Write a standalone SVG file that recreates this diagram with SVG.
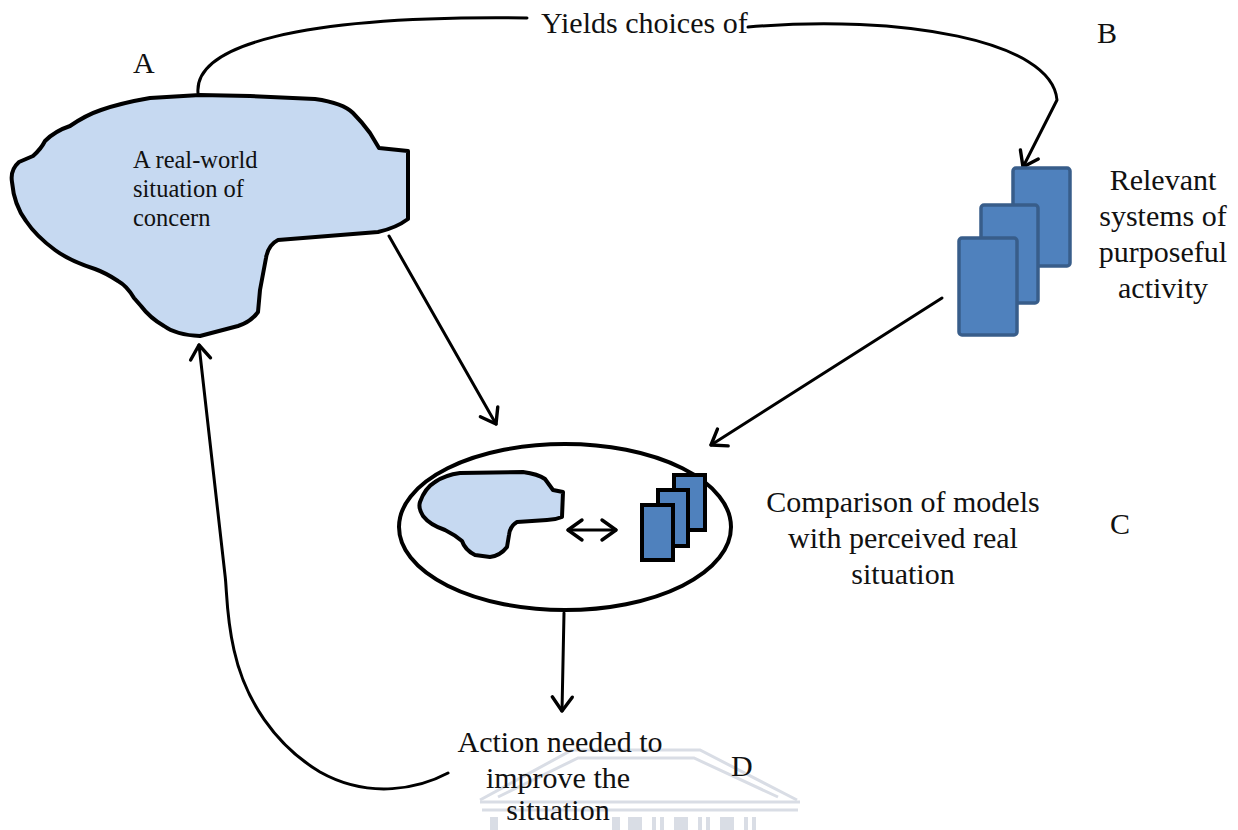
<svg xmlns="http://www.w3.org/2000/svg" width="1238" height="830" viewBox="0 0 1238 830">
  <style>
    .txt { font-family: "Liberation Serif", "Times New Roman", serif; fill: #111; }
    .big { font-size: 30px; }
    .small { font-size: 24.5px; }
    .conn { fill: none; stroke: #000; stroke-width: 3; stroke-linecap: round; stroke-linejoin: round; }
    .blob { fill: #c6d9f1; stroke: #000; stroke-width: 4; stroke-linejoin: round; }
    .sys { fill: #4f81bd; stroke: #385d8a; stroke-width: 3.5; }
    .sysS { fill: #4f81bd; stroke: #000; stroke-width: 4; }
    .wm { fill: none; stroke: #d9dde5; stroke-width: 3; }
    .wmf { fill: #d9dde5; }
  </style>
  <defs>
    <marker id="arrow" markerUnits="userSpaceOnUse" markerWidth="26" markerHeight="26" viewBox="0 0 26 26" refX="20" refY="13" orient="auto-start-reverse">
      <path d="M6,3 L20,13 L6,23" fill="none" stroke="#000" stroke-width="3.4" stroke-linecap="round" stroke-linejoin="round"/>
    </marker>
  </defs>

  <rect width="1238" height="830" fill="#fff"/>

  <!-- faint building emblem at the bottom -->
  <g id="emblem">
    <polyline class="wm" points="480,800 572,750 700,750 797,800"/>
    <polyline class="wm" points="498,797 578,758 694,758 778,797" stroke-width="2"/>
    <line class="wm" x1="480" y1="802" x2="800" y2="802"/>
    <line class="wm" x1="482" y1="810" x2="798" y2="810"/>
    <rect class="wmf" x="490" y="817" width="8" height="13"/>
    <rect class="wmf" x="612" y="817" width="8" height="13"/>
    <rect class="wmf" x="628" y="817" width="14" height="13"/>
    <rect class="wmf" x="652" y="817" width="4" height="13"/>
    <rect class="wmf" x="660" y="817" width="4" height="13"/>
    <rect class="wmf" x="674" y="817" width="14" height="13"/>
    <rect class="wmf" x="698" y="817" width="4" height="13"/>
    <rect class="wmf" x="706" y="817" width="4" height="13"/>
    <rect class="wmf" x="720" y="817" width="14" height="13"/>
    <rect class="wmf" x="744" y="817" width="4" height="13"/>
    <rect class="wmf" x="752" y="817" width="4" height="13"/>
  </g>

  <!-- connectors -->
  <g id="connectors">
    <path class="conn" d="M198,93 C194,45 300,15 527,18"/>
    <path class="conn" d="M748,27 C900,14 1052,40 1057,100 L1023,167" marker-end="url(#arrow)"/>
    <path class="conn" d="M389,236 L496,424" marker-end="url(#arrow)"/>
    <path class="conn" d="M942,298 L711,445" marker-end="url(#arrow)"/>
    <path class="conn" d="M564,613 L562,711" marker-end="url(#arrow)"/>
    <path class="conn" d="M448,773 C420,788 370,800 320,772 C275,745 245,700 234,650 C226,615 227,590 225,575 L199,345" marker-end="url(#arrow)"/>
  </g>

  <!-- A: real-world situation -->
  <g id="node-situation">
    <path class="blob" d="M200,95 L250,96 L315,99 Q343,103 353,113 Q362,122 370,133 L379,148 L408,151 L408,219 Q396,228 378,232 L278,240 Q268,245 266,258 L260,290 L258,312 Q251,322 238,326 L200,336 Q176,335 164,326 Q150,318 141,306 L134,298 Q127,286 118,281 Q106,273 95,269 Q70,261 55,250 Q36,236 26,221 Q14,205 12,182 Q10,170 19,162 L33,156 Q41,149 45,141 Q55,131 70,126 Q86,115 101,110 Q121,103 150,98 Z"/>
    <text class="txt small" x="133" y="168">A real-world</text>
    <text class="txt small" x="133" y="197">situation of</text>
    <text class="txt small" x="133" y="226">concern</text>
  </g>

  <!-- B: relevant systems -->
  <g id="node-systems">
    <rect class="sys" x="1013" y="168" width="57" height="98" rx="3"/>
    <rect class="sys" x="981" y="205" width="57" height="98" rx="3"/>
    <rect class="sys" x="959" y="238" width="58" height="97" rx="3"/>
    <text class="txt big" text-anchor="middle" x="1163" y="190">Relevant</text>
    <text class="txt big" text-anchor="middle" x="1163" y="226">systems of</text>
    <text class="txt big" text-anchor="middle" x="1163" y="262">purposeful</text>
    <text class="txt big" text-anchor="middle" x="1163" y="298">activity</text>
  </g>

  <!-- C: comparison -->
  <g id="node-comparison">
    <ellipse cx="565" cy="527" rx="166" ry="83" fill="none" stroke="#000" stroke-width="4"/>
    <path class="blob" d="M420,502 Q425,488 435,482 Q445,475 460,473 L523,472 Q538,474 545,479 L553,490 L563,492 L562,517 Q555,520 547,520 L517,522 Q510,526 509,535 L507,547 Q500,556 490,557 L475,555 Q465,550 462,541 Q455,535 445,530 Q430,525 423,516 Q418,508 420,502 Z"/>
    <path class="conn" d="M568,530 L616,530" stroke-width="2.5" marker-start="url(#arrow)" marker-end="url(#arrow)"/>
    <rect class="sysS" x="674" y="475" width="31" height="55"/>
    <rect class="sysS" x="658" y="490" width="30" height="56"/>
    <rect class="sysS" x="642" y="505" width="31" height="55"/>
    <text class="txt big" text-anchor="middle" x="903" y="512">Comparison of models</text>
    <text class="txt big" text-anchor="middle" x="903" y="548">with perceived real</text>
    <text class="txt big" text-anchor="middle" x="903" y="584">situation</text>
  </g>

  <!-- D: action -->
  <g id="node-action">
    <text class="txt big" text-anchor="middle" x="560" y="752">Action needed to</text>
    <text class="txt big" text-anchor="middle" x="558" y="788">improve the</text>
    <text class="txt big" text-anchor="middle" x="558" y="820">situation</text>
  </g>

  <!-- connector label and stage letters -->
  <g id="labels">
    <text class="txt big" x="541" y="33">Yields choices of</text>
    <text class="txt big" x="133" y="73">A</text>
    <text class="txt big" x="1097" y="43">B</text>
    <text class="txt big" x="1110" y="534">C</text>
    <text class="txt big" x="731" y="776">D</text>
  </g>
</svg>
